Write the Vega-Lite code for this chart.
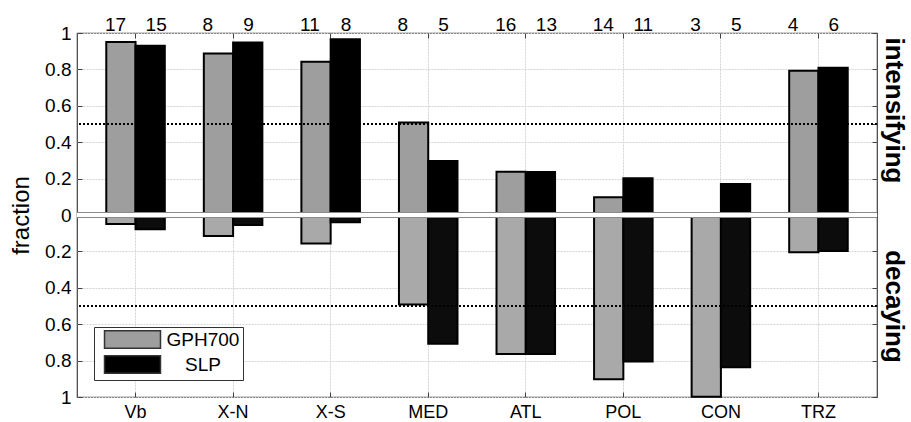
{
  "$schema": "https://vega.github.io/schema/vega-lite/v6.json",
  "width": 800,
  "height": 364,
  "autosize": "none",
  "padding": {"left": 77, "top": 33, "right": 34, "bottom": 25},
  "background": "white",
  "config": {
    "font": "Liberation Sans",
    "view": {"stroke": "#404040", "strokeWidth": 1.2},
    "axis": {"labelColor": "black", "titleColor": "black", "tickColor": "#404040", "domain": false, "labelFont": "Liberation Sans", "titleFont": "Liberation Sans"},
    "legend": {"labelFont": "Liberation Sans", "labelColor": "black"}
  },
  "datasets": {
    "bars": [
      {"region": "Vb", "series": "GPH700", "n": 17, "intensifying": 0.95, "decaying": -0.05},
      {"region": "Vb", "series": "SLP", "n": 15, "intensifying": 0.93, "decaying": -0.078},
      {"region": "X-N", "series": "GPH700", "n": 8, "intensifying": 0.888, "decaying": -0.115},
      {"region": "X-N", "series": "SLP", "n": 9, "intensifying": 0.948, "decaying": -0.055},
      {"region": "X-S", "series": "GPH700", "n": 11, "intensifying": 0.842, "decaying": -0.156},
      {"region": "X-S", "series": "SLP", "n": 8, "intensifying": 0.965, "decaying": -0.04},
      {"region": "MED", "series": "GPH700", "n": 8, "intensifying": 0.508, "decaying": -0.492},
      {"region": "MED", "series": "SLP", "n": 5, "intensifying": 0.297, "decaying": -0.708},
      {"region": "ATL", "series": "GPH700", "n": 16, "intensifying": 0.238, "decaying": -0.764},
      {"region": "ATL", "series": "SLP", "n": 13, "intensifying": 0.236, "decaying": -0.764},
      {"region": "POL", "series": "GPH700", "n": 14, "intensifying": 0.098, "decaying": -0.902},
      {"region": "POL", "series": "SLP", "n": 11, "intensifying": 0.202, "decaying": -0.805},
      {"region": "CON", "series": "GPH700", "n": 3, "intensifying": 0.0, "decaying": -0.998},
      {"region": "CON", "series": "SLP", "n": 5, "intensifying": 0.17, "decaying": -0.836},
      {"region": "TRZ", "series": "GPH700", "n": 4, "intensifying": 0.793, "decaying": -0.205},
      {"region": "TRZ", "series": "SLP", "n": 6, "intensifying": 0.809, "decaying": -0.198}
    ]
  },
  "data": {"name": "bars"},
  "resolve": {"axis": {"y": "independent", "x": "independent"}, "scale": {"fill": "independent"}},
  "layer": [
    {
      "mark": {"type": "bar", "stroke": "black", "strokeWidth": 2},
      "encoding": {
        "x": {"field": "region", "type": "nominal",
          "scale": {"domain": ["Vb", "X-N", "X-S", "MED", "ATL", "POL", "CON", "TRZ"], "paddingInner": 0.4, "paddingOuter": 0.3},
          "axis": {"orient": "bottom", "title": null, "labelAngle": 0, "labelFontSize": 18, "labelPadding": 11, "labelBaseline": "top", "tickSize": -5, "grid": true, "gridColor": "#d4d4d4", "gridDash": [2, 1], "bandPosition": 0.5, "domain": false}},
        "xOffset": {"field": "series", "type": "nominal", "scale": {"domain": ["GPH700", "SLP"], "paddingInner": 0, "paddingOuter": 0}},
        "y": {"field": "intensifying", "type": "quantitative",
          "scale": {"domain": [-1, 1], "nice": false, "zero": false},
          "axis": {"values": [-1, -0.8, -0.6, -0.4, -0.2, 0, 0.2, 0.4, 0.6, 0.8, 1], "labelExpr": "format(abs(datum.value), '.1~f')", "labelFontSize": 19, "labelPadding": 11, "tickSize": -5, "grid": true, "gridColor": "#d4d4d4", "gridDash": [2, 1], "title": "fraction", "titleFontSize": 24, "titleFontWeight": "normal", "titlePadding": 11, "domain": false, "labelFlush": false, "labelOverlap": false}},
        "y2": {"datum": 0},
        "fill": {"field": "series", "type": "nominal",
          "scale": {"domain": ["GPH700", "SLP"], "range": ["#9e9e9e", "#000000"]},
          "legend": {"orient": "bottom-left", "offset": 17, "padding": 3, "strokeColor": "#333333", "fillColor": "white", "title": null,
            "symbolType": "M-3.2,-1H3.2V1H-3.2Z", "symbolSize": 306, "symbolStrokeColor": "#333333", "symbolStrokeWidth": 1.5, "symbolOpacity": 1, "symbolOffset": 26,
            "labelFontSize": 19, "labelAlign": "center", "labelOffset": 61, "rowPadding": 0, "labelLimit": 200}}
      }
    },
    {
      "mark": {"type": "bar", "stroke": "black", "strokeWidth": 2},
      "encoding": {
        "x": {"field": "region", "type": "nominal", "scale": {"domain": ["Vb", "X-N", "X-S", "MED", "ATL", "POL", "CON", "TRZ"]}, "axis": null},
        "xOffset": {"field": "series", "type": "nominal", "scale": {"domain": ["GPH700", "SLP"]}},
        "y": {"field": "decaying", "type": "quantitative", "axis": null},
        "y2": {"datum": 0},
        "fill": {"field": "series", "type": "nominal", "scale": {"domain": ["GPH700", "SLP"], "range": ["#a9a9a9", "#0c0c0c"]}, "legend": null}
      }
    },
    {
      "mark": {"type": "rule", "color": "#8a8a8a", "strokeWidth": 5},
      "encoding": {"y": {"datum": 0, "type": "quantitative", "axis": null}}
    },
    {
      "mark": {"type": "rule", "color": "white", "strokeWidth": 3},
      "encoding": {"y": {"datum": 0, "type": "quantitative", "axis": null}}
    },
    {
      "data": {"values": [{"level": 0.5}, {"level": -0.5}]},
      "mark": {"type": "rule", "color": "black", "strokeWidth": 2, "strokeDash": [2, 2]},
      "encoding": {
        "y": {"field": "level", "type": "quantitative",
          "axis": {"orient": "right", "values": [1, 0.8, 0.6, 0.5, 0.4, 0.2, 0, -0.2, -0.4, -0.5, -0.6, -0.8, -1],
            "labelExpr": "datum.value == 0.5 ? 'intensifying' : (datum.value == -0.5 ? 'decaying' : '')",
            "labelAngle": 90, "labelAlign": "center", "labelBaseline": "bottom", "labelFontSize": 26, "labelFontWeight": "bold", "labelPadding": 8,
            "labelOffset": {"condition": {"test": "datum.value > 0", "value": -14}, "value": 0},
            "tickSize": -5, "grid": false, "domain": false, "title": null, "labelOverlap": false, "labelBound": false, "labelFlush": false}}
      }
    },
    {
      "transform": [{"filter": "datum.series == 'GPH700'"}],
      "mark": {"type": "text", "align": "left", "baseline": "alphabetic", "dx": -16, "dy": -2, "fontSize": 19, "color": "black"},
      "encoding": {
        "x": {"field": "region", "type": "nominal", "scale": {"domain": ["Vb", "X-N", "X-S", "MED", "ATL", "POL", "CON", "TRZ"]},
          "axis": {"orient": "top", "labels": false, "title": null, "grid": false, "domain": false, "tickSize": -5, "bandPosition": 0.5}},
        "xOffset": {"field": "series", "type": "nominal", "scale": {"domain": ["GPH700", "SLP"]}},
        "y": {"datum": 1, "axis": null},
        "text": {"field": "n", "type": "quantitative"}
      }
    },
    {
      "transform": [{"filter": "datum.series == 'SLP'"}],
      "mark": {"type": "text", "align": "left", "baseline": "alphabetic", "dx": -4.6, "dy": -2, "fontSize": 19, "color": "black"},
      "encoding": {
        "x": {"field": "region", "type": "nominal", "scale": {"domain": ["Vb", "X-N", "X-S", "MED", "ATL", "POL", "CON", "TRZ"]}, "axis": null},
        "xOffset": {"field": "series", "type": "nominal", "scale": {"domain": ["GPH700", "SLP"]}},
        "y": {"datum": 1, "axis": null},
        "text": {"field": "n", "type": "quantitative"}
      }
    }
  ]
}
